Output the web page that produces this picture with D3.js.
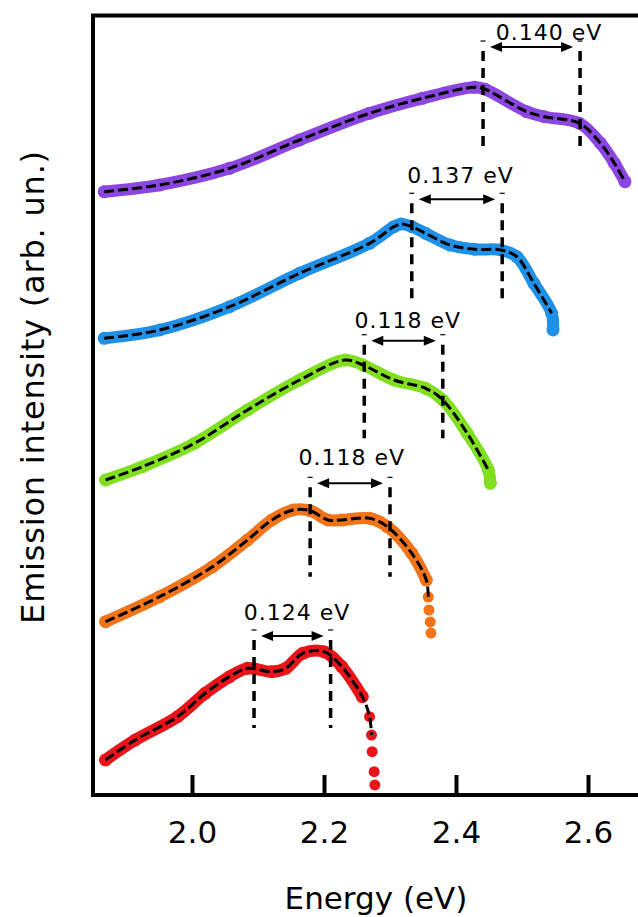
<!DOCTYPE html>
<html lang="en">
	<head>
		<meta charset="utf-8">
		<title>Emission spectra</title>
		<script type="text/javascript" src="https://d3js.org/d3.v7.min.js"></script>
		<style type="text/css">
			body { margin: 0; background: #fff; }
			text { font-family: "DejaVu Sans", sans-serif; fill: #000; }
		</style>
	</head>
	<body>
		<script type="text/javascript">

			//Width and height
			var w = 638;
			var h = 917;

			//Tick labels of the energy axis
			var energyTicks = [2.0, 2.2, 2.4, 2.6];

			//Spectra, bottom to top: [energy (eV), intensity (arb. un., stacked)]
			var redPts = [[1.869, 0.450], [1.914, 0.707], [1.978, 1.006], [2.020, 1.307], [2.057, 1.521],
				[2.084, 1.628], [2.121, 1.585], [2.142, 1.628], [2.168, 1.821], [2.200, 1.842],
				[2.227, 1.649], [2.258, 1.264],
				[2.269, 1.007], [2.272, 0.771], [2.273, 0.557], [2.276, 0.300], [2.277, 0.129]];
			var orangePts = [[1.869, 2.228], [1.951, 2.549], [2.031, 2.934], [2.084, 3.278], [2.121, 3.535],
				[2.153, 3.663], [2.179, 3.655], [2.206, 3.535], [2.227, 3.535], [2.269, 3.557],
				[2.296, 3.449], [2.333, 3.107], [2.355, 2.763],
				[2.358, 2.545], [2.359, 2.378], [2.361, 2.224], [2.362, 2.082]];
			var greenPts = [[1.869, 4.049], [1.925, 4.220], [2.004, 4.521], [2.084, 4.949], [2.163, 5.334],
				[2.232, 5.591], [2.259, 5.527], [2.306, 5.334], [2.354, 5.227], [2.380, 5.077],
				[2.417, 4.649], [2.449, 4.177], [2.452, 4.006]];
			var bluePts = [[1.867, 5.870], [1.951, 5.977], [2.057, 6.276], [2.163, 6.706], [2.269, 7.091],
				[2.306, 7.305], [2.317, 7.339], [2.333, 7.305], [2.354, 7.219], [2.391, 7.069],
				[2.428, 7.014], [2.468, 7.005], [2.492, 6.919], [2.518, 6.577], [2.545, 6.192], [2.547, 5.977]];
			var purplePts = [[1.867, 7.755], [1.951, 7.841], [2.057, 8.055], [2.163, 8.419], [2.269, 8.762],
				[2.349, 8.955], [2.428, 9.096], [2.444, 9.071], [2.507, 8.783], [2.534, 8.718],
				[2.587, 8.634], [2.619, 8.377], [2.640, 8.120], [2.656, 7.883]];

			var spectra = [redPts, orangePts, greenPts, bluePts, purplePts];
			var colors = ["#e8141a", "#f27318", "#80e020", "#1e90e8", "#8b45e0"];
			//How many points form the dense band, and how far the fit runs
			var bandCount = [12, 13, 13, 16, 14];
			var fitCount = [14, 14, 12, 15, 14];

			//Peak splitting marks: two energies, arrow level, lower end of the lines, label
			var splitLo = [2.094, 2.179, 2.261, 2.333, 2.441];
			var splitHi = [2.210, 2.300, 2.380, 2.470, 2.588];
			var arrowLevel = [2.044, 4.006, 5.839, 7.657, 9.614];
			var lineEnd = [0.861, 2.806, 4.585, 6.341, 8.290];
			var labelE = [2.159, 2.242, 2.327, 2.407, 2.541];
			var labelLevel = [2.249, 4.242, 6.003, 7.862, 9.704];
			var splitLabels = ["0.124 eV", "0.118 eV", "0.118 eV", "0.137 eV", "0.140 eV"];

			//Scales
			var x = d3.scaleLinear().domain([1.85, 2.70]).range([93, 654]);
			var y = d3.scaleLinear().domain([0, 10]).range([795, 17]);

			//Create SVG element
			var svg = d3.select("body")
				.append("svg")
				.attr("width", w)
				.attr("height", h);

			var line = d3.line()
				.x(function(d) { return x(d[0]); })
				.y(function(d) { return y(d[1]); })
				.curve(d3.curveCatmullRom.alpha(0.5));

			//Data bands and points
			spectra.forEach(function(pts, i) {
				var band = pts.slice(0, bandCount[i]);
				svg.append("path")
					.attr("d", line(band))
					.attr("fill", "none")
					.attr("stroke", colors[i])
					.attr("stroke-width", 12)
					.attr("stroke-linecap", "round")
					.attr("stroke-linejoin", "round");
				svg.append("g")
					.selectAll("circle")
					.data(pts)
					.enter()
					.append("circle")
					.attr("cx", function(d) { return x(d[0]); })
					.attr("cy", function(d) { return y(d[1]); })
					.attr("r", function(d, j) { return j < bandCount[i] ? 6.5 : 5.5; })
					.attr("fill", colors[i]);
			});

			//Fits
			spectra.forEach(function(pts, i) {
				svg.append("path")
					.attr("d", line(pts.slice(0, fitCount[i])))
					.attr("fill", "none")
					.attr("stroke", "#000")
					.attr("stroke-width", 3)
					.attr("stroke-dasharray", "10,4");
			});

			//Splitting marks
			splitLo.forEach(function(lo, i) {
				var hi = splitHi[i];
				var ya = y(arrowLevel[i]);
				var g = svg.append("g");
				[lo, hi].forEach(function(e) {
					g.append("line")
						.attr("x1", x(e)).attr("x2", x(e))
						.attr("y1", ya + 4).attr("y2", y(lineEnd[i]))
						.attr("stroke", "#000")
						.attr("stroke-width", 3.5)
						.attr("stroke-dasharray", "10,7");
					g.append("line")
						.attr("x1", x(e) - 2.5).attr("x2", x(e) + 2.5)
						.attr("y1", ya - 6).attr("y2", ya - 6)
						.attr("stroke", "#000")
						.attr("stroke-width", 1.2);
				});
				var xa = x(lo) + 7, xb = x(hi) - 7;
				g.append("line")
					.attr("x1", xa + 4).attr("x2", xb - 4)
					.attr("y1", ya).attr("y2", ya)
					.attr("stroke", "#000")
					.attr("stroke-width", 2);
				g.append("path")
					.attr("d", "M" + xa + "," + ya + "l12,-5l0,10z" +
						"M" + xb + "," + ya + "l-12,-5l0,10z")
					.attr("fill", "#000");
				g.append("text")
					.attr("x", x(labelE[i]))
					.attr("y", y(labelLevel[i]))
					.attr("text-anchor", "middle")
					.attr("font-size", 22)
					.style("letter-spacing", "1px")
					.text(splitLabels[i]);
			});

			//Frame
			svg.append("rect")
				.attr("x", 93)
				.attr("y", 15.5)
				.attr("width", 561)
				.attr("height", 779.5)
				.attr("fill", "none")
				.attr("stroke", "#000")
				.attr("stroke-width", 4);

			//Energy axis
			var xAxis = d3.axisBottom(x)
				.tickValues(energyTicks)
				.tickSize(-20)
				.tickPadding(26)
				.tickFormat(d3.format(".1f"));

			var gx = svg.append("g")
				.attr("transform", "translate(0,795)")
				.call(xAxis);
			gx.select(".domain").remove();
			gx.selectAll(".tick line").attr("stroke", "#000").attr("stroke-width", 4);
			gx.selectAll(".tick text")
				.attr("font-size", 31)
				.attr("font-family", "DejaVu Sans")
				.attr("fill", "#000");

			//Axis titles
			svg.append("text")
				.attr("x", 376)
				.attr("y", 909)
				.attr("text-anchor", "middle")
				.attr("font-size", 31)
				.text("Energy (eV)");

			svg.append("text")
				.attr("transform", "translate(44,387) rotate(-90)")
				.attr("text-anchor", "middle")
				.attr("font-size", 32)
				.style("letter-spacing", "0.8px")
				.text("Emission intensity (arb. un.)");

		</script>
	</body>
</html>
